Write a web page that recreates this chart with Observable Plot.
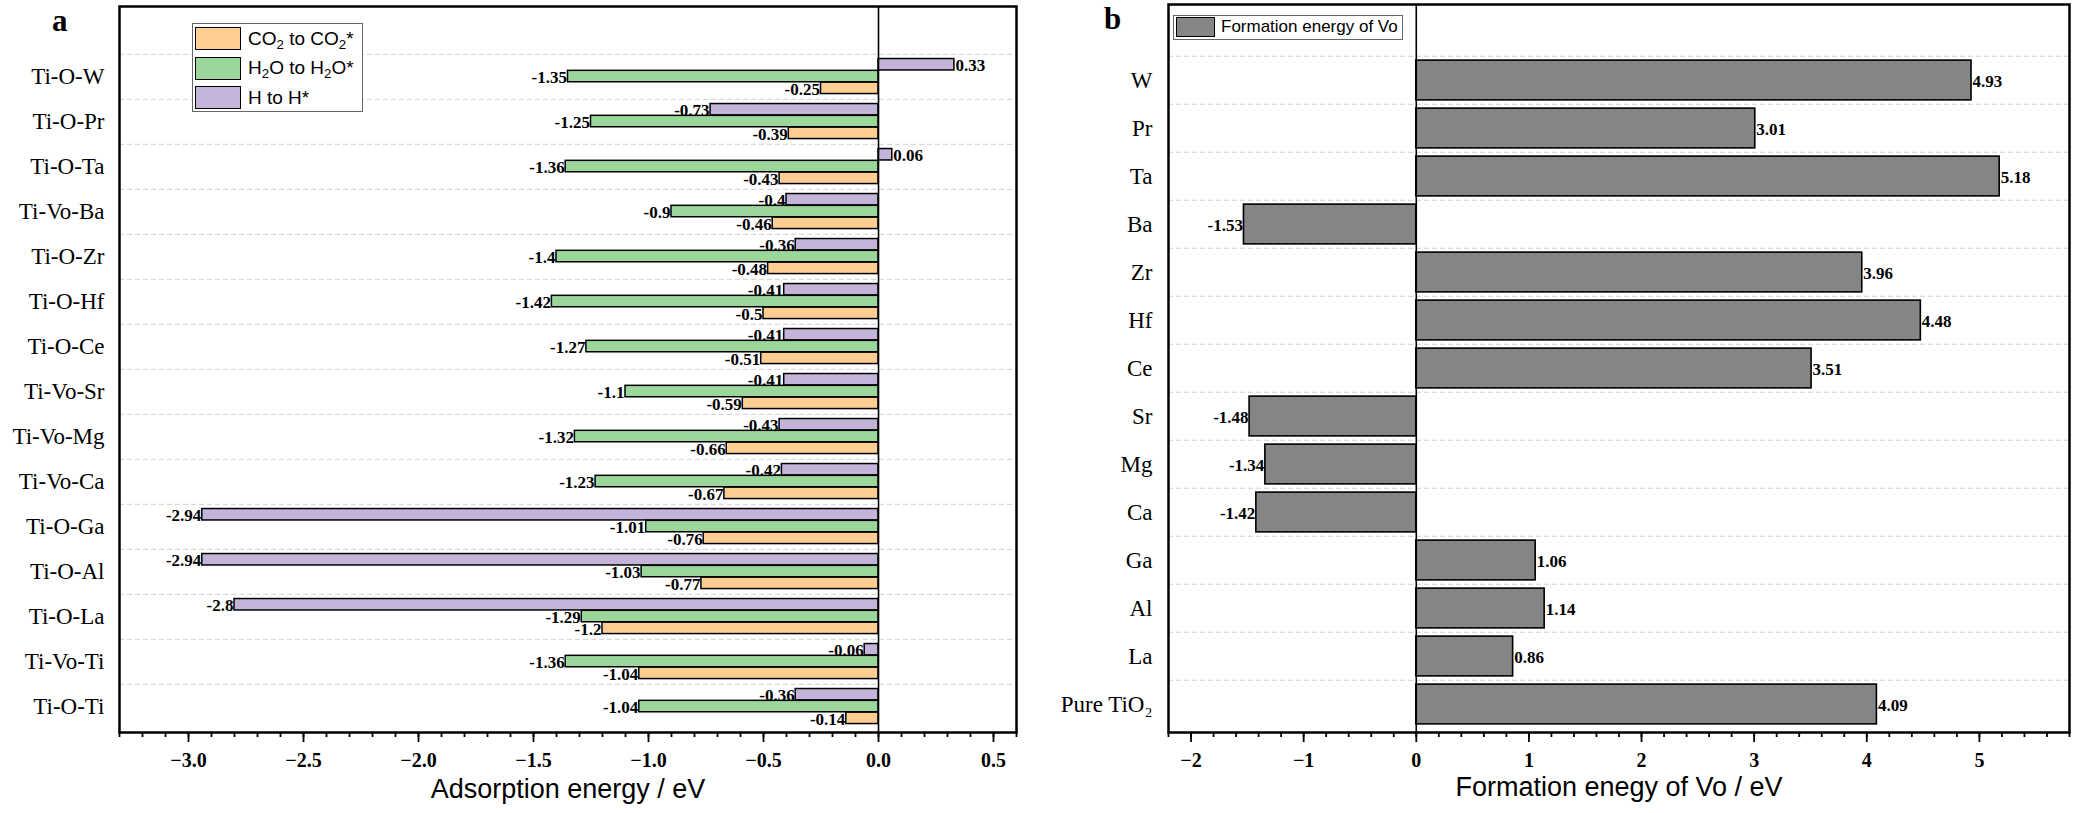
<!DOCTYPE html>
<html>
<head>
<meta charset="utf-8">
<script src="https://cdn.jsdelivr.net/npm/d3@7"></script>
<script src="https://cdn.jsdelivr.net/npm/@observablehq/plot@0.6"></script>
<style>
  body { margin: 0; background: #fff; }
  #wrap { position: relative; width: 2075px; height: 813px; overflow: hidden; background: #fff; }
  .panel { position: absolute; top: 0; }
  .letter { position: absolute; font-family: "Liberation Serif", serif; font-weight: bold; font-size: 31px; line-height: 1; }
  .legend { position: absolute; background: #fff; border: 1px solid #666; font-family: "Liberation Sans", Arial, sans-serif; color: #000; }
  .legend .row { position: absolute; display: flex; align-items: center; white-space: nowrap; }
  .legend .sw { box-sizing: border-box; border: 1.5px solid #000; }
  .legend sub { font-size: 0.7em; vertical-align: -0.3em; line-height: 0; }
</style>
</head>
<body>
<div id="wrap">
  <div id="pa" class="panel" style="left:0px"></div>
  <div id="pb" class="panel" style="left:1040px"></div>
  <div class="letter" style="left:52px;top:5px">a</div>
  <div class="letter" style="left:1104px;top:3px">b</div>
  <div class="legend" id="legA" style="left:192px;top:23px;width:169px;height:87px"></div>
  <div class="legend" id="legB" style="left:1173px;top:15px;width:228px;height:23px"></div>
</div>
<script>
// ---------- Panel a data ----------
const sitesA = ["Ti-O-W","Ti-O-Pr","Ti-O-Ta","Ti-Vo-Ba","Ti-O-Zr","Ti-O-Hf","Ti-O-Ce","Ti-Vo-Sr","Ti-Vo-Mg","Ti-Vo-Ca","Ti-O-Ga","Ti-O-Al","Ti-O-La","Ti-Vo-Ti","Ti-O-Ti"];
const co2Values = [-0.25,-0.39,-0.43,-0.46,-0.48,-0.5,-0.51,-0.59,-0.66,-0.67,-0.76,-0.77,-1.2,-1.04,-0.14];
const h2oValues = [-1.35,-1.25,-1.36,-0.9,-1.4,-1.42,-1.27,-1.1,-1.32,-1.23,-1.01,-1.03,-1.29,-1.36,-1.04];
const hValues   = [0.33,-0.73,0.06,-0.4,-0.36,-0.41,-0.41,-0.41,-0.43,-0.42,-2.94,-2.94,-2.8,-0.06,-0.36];
const xTicksA = [-3.0,-2.5,-2.0,-1.5,-1.0,-0.5,0.0,0.5];
const xDomainA = [-3.3, 0.6];
const xTitleA = "Adsorption energy / eV";

// ---------- Panel b data ----------
const sitesB = ["W","Pr","Ta","Ba","Zr","Hf","Ce","Sr","Mg","Ca","Ga","Al","La","Pure TiO\u2082"];
const vacancyValues = [4.93,3.01,5.18,-1.53,3.96,4.48,3.51,-1.48,-1.34,-1.42,1.06,1.14,0.86,4.09];
const xTicksB = [-2,-1,0,1,2,3,4,5];
const xDomainB = [-2.2, 5.8];
const xTitleB = "Formation enegy of Vo / eV";

// ---------- styles ----------
const colCO2 = "#FECD91", colH2O = "#9BD79B", colH = "#C5B4D9", colVo = "#858585";
const H = 813;
const serif = "Liberation Serif, Times New Roman, serif";
const sans = "Liberation Sans, Arial, sans-serif";

// ----- panel a -----
const mA = {top: 6, right: 24, bottom: 81, left: 119};
const WA = 1040;
const bandA = (H - mA.top - mA.bottom) / (sitesA.length + 1);
const seriesA = [
  {key: "H",   vals: hValues,   color: colH,   top: 0.10},
  {key: "H2O", vals: h2oValues, color: colH2O, top: 0.36},
  {key: "CO2", vals: co2Values, color: colCO2, top: 0.62}
];
const barFrac = 0.26;
const minorA = d3.range(-33, 7).map(i => i / 10);

const marksA = [
  Plot.ruleY(sitesA, {y: d => d, dy: -bandA / 2, stroke: "#d0d0d0", strokeWidth: 1, strokeDasharray: "5,3"})
];
for (const s of seriesA) {
  const rows = sitesA.map((site, i) => ({site, value: s.vals[i]}));
  marksA.push(Plot.barX(rows, {
    x: "value", y: "site", fill: s.color, stroke: "#000", strokeWidth: 1.5,
    insetTop: s.top * bandA, insetBottom: (1 - s.top - barFrac) * bandA
  }));
  const dy = (s.top + barFrac / 2 - 0.5) * bandA;
  const common = {x: "value", y: "site", text: d => String(d.value), dy: dy + 1,
    fontWeight: "bold", fontSize: 17, fontFamily: serif, fill: "#000"};
  marksA.push(Plot.text(rows.filter(r => r.value < 0), {...common, textAnchor: "end", dx: -1}));
  marksA.push(Plot.text(rows.filter(r => r.value >= 0), {...common, textAnchor: "start", dx: 1}));
}
marksA.push(
  Plot.ruleX([0], {stroke: "#000", strokeWidth: 1.6}),
  Plot.axisY({tickSize: 0, tickPadding: 15, fontSize: 23, fontFamily: serif, label: null}),
  Plot.axisX({ticks: minorA, tickSize: 5, tickFormat: () => "", label: null, strokeWidth: 1.8}),
  Plot.axisX({ticks: xTicksA, tickSize: 10, tickPadding: 10, tickFormat: d3.format(".1f"),
    fontSize: 20, fontWeight: "bold", fontFamily: serif, label: null, strokeWidth: 1.8}),
  Plot.text([xTitleA], {text: d => d, frameAnchor: "bottom", dy: 65, fontSize: 27, fontFamily: sans, fill: "#000"}),
  Plot.frame({stroke: "#000", strokeWidth: 2.5})
);

const plotA = Plot.plot({
  width: WA, height: H,
  marginTop: mA.top, marginRight: mA.right, marginBottom: mA.bottom, marginLeft: mA.left,
  style: {background: "transparent", color: "#000", fontFamily: serif},
  x: {domain: xDomainA},
  y: {domain: sitesA, padding: 0, insetTop: bandA},
  marks: marksA
});
document.getElementById("pa").appendChild(plotA);

// ----- panel b -----
const mB = {top: 4, right: 6, bottom: 81, left: 128};
const WB = 1035;
const bandB = (H - mB.top - mB.bottom) / (sitesB.length + 1);
const rowsB = sitesB.map((site, i) => ({site, value: vacancyValues[i]}));
const minorB = d3.range(-11, 30).map(i => i / 5);
const commonB = {x: "value", y: "site", text: d => d.value.toFixed(2), dy: 1,
  fontWeight: "bold", fontSize: 17, fontFamily: serif, fill: "#000"};

const plotB = Plot.plot({
  width: WB, height: H,
  marginTop: mB.top, marginRight: mB.right, marginBottom: mB.bottom, marginLeft: mB.left,
  style: {background: "transparent", color: "#000", fontFamily: serif},
  x: {domain: xDomainB},
  y: {domain: sitesB, padding: 0, insetTop: bandB},
  marks: [
    Plot.ruleY(sitesB, {y: d => d, dy: -bandB / 2, stroke: "#d0d0d0", strokeWidth: 1, strokeDasharray: "5,3"}),
    Plot.barX(rowsB, {x: "value", y: "site", fill: colVo, stroke: "#000", strokeWidth: 1.6,
      insetTop: 0.085 * bandB, insetBottom: 0.085 * bandB}),
    Plot.text(rowsB.filter(r => r.value < 0), {...commonB, textAnchor: "end", dx: -1}),
    Plot.text(rowsB.filter(r => r.value >= 0), {...commonB, textAnchor: "start", dx: 1}),
    Plot.ruleX([0], {stroke: "#000", strokeWidth: 1.6}),
    Plot.axisY({tickSize: 0, tickPadding: 16, fontSize: 23, fontFamily: serif, label: null}),
    Plot.axisX({ticks: minorB, tickSize: 5, tickFormat: () => "", label: null, strokeWidth: 1.8}),
    Plot.axisX({ticks: xTicksB, tickSize: 10, tickPadding: 10, tickFormat: d3.format("d"),
      fontSize: 20, fontWeight: "bold", fontFamily: serif, label: null, strokeWidth: 1.8}),
    Plot.text([xTitleB], {text: d => d, frameAnchor: "bottom", dy: 63, fontSize: 27, fontFamily: sans, fill: "#000"}),
    Plot.frame({stroke: "#000", strokeWidth: 2.5})
  ]
});
document.getElementById("pb").appendChild(plotB);

// ----- legends (HTML) -----
const legendA = [
  {html: "CO<sub>2</sub> to CO<sub>2</sub>*", color: colCO2},
  {html: "H<sub>2</sub>O to H<sub>2</sub>O*", color: colH2O},
  {html: "H to H*", color: colH}
];
const legA = document.getElementById("legA");
legendA.forEach((d, i) => {
  const row = document.createElement("div");
  row.className = "row";
  row.style.left = "2px"; row.style.top = (3 + i * 29.5) + "px"; row.style.height = "23px";
  row.innerHTML = `<div class="sw" style="width:46px;height:23px;background:${d.color}"></div><span style="margin-left:7px;font-size:19px">${d.html}</span>`;
  legA.appendChild(row);
});
const legB = document.getElementById("legB");
legB.innerHTML = `<div class="row" style="left:2px;top:1px;height:20px"><div class="sw" style="width:39px;height:20px;background:${colVo}"></div><span style="margin-left:6px;font-size:17px">Formation energy of Vo</span></div>`;
</script>
</body>
</html>
